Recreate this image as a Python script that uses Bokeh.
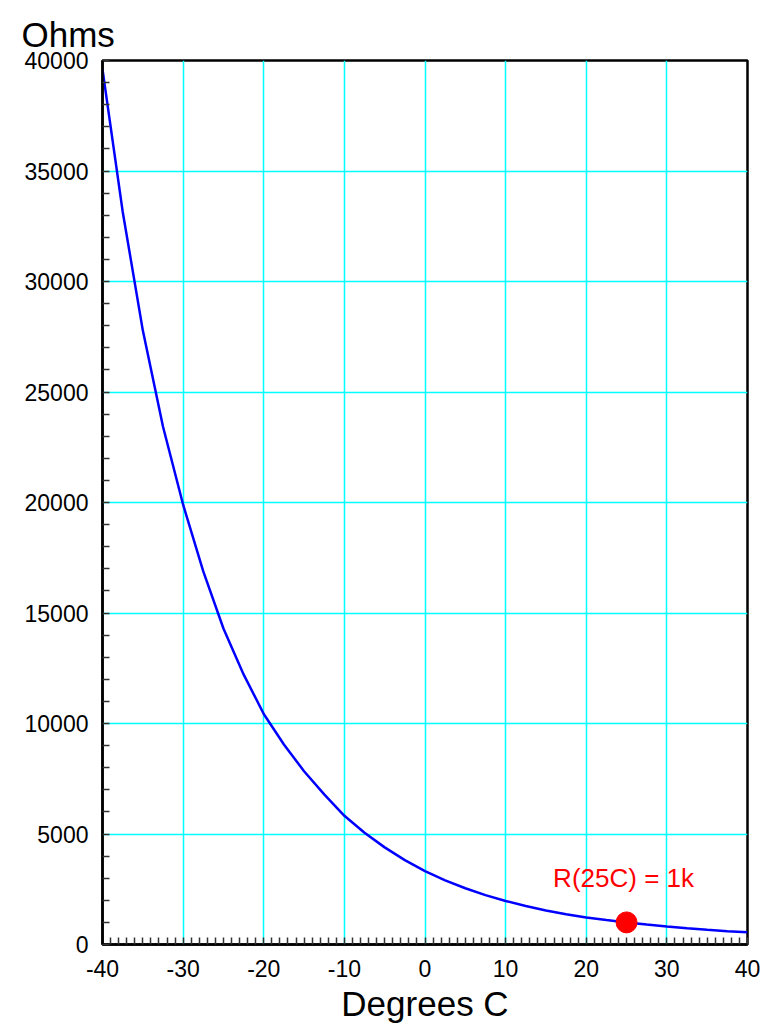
from bokeh.plotting import figure
from bokeh.models import Range1d, FixedTicker, Label, CustomJSTickFormatter
from bokeh.embed import file_html
from bokeh.resources import INLINE

# Thermistor resistance vs temperature (R at 25 C = 1 kOhm)
temps_c = [-40, -37.5, -35, -32.5, -30, -27.5, -25, -22.5, -20, -17.5, -15,
           -12.5, -10, -7.5, -5, -2.5, 0, 2.5, 5, 7.5, 10, 12.5, 15, 17.5,
           20, 22.5, 25, 27.5, 30, 32.5, 35, 37.5, 40]
ohms = [39600, 33170, 27790, 23440, 19900, 16880, 14300, 12220, 10430, 9050,
        7840, 6790, 5825, 5060, 4395, 3820, 3320, 2905, 2545, 2235, 1970,
        1740, 1540, 1370, 1225, 1107, 1000, 900, 810, 733, 665, 604, 550]

ref_temp = [25]
ref_ohms = [1000]
ref_text = "R(25C) = 1k"

x_ticks = [-40, -30, -20, -10, 0, 10, 20, 30, 40]
x_minor = list(range(-40, 41))
y_ticks = [0, 5000, 10000, 15000, 20000, 25000, 30000, 35000, 40000]
y_minor = list(range(0, 40001, 1000))

FONT = "Liberation Sans"

p = figure(width=773, height=1025, output_backend="svg", toolbar_location=None,
           x_range=Range1d(-40, 40), y_range=Range1d(0, 40000),
           min_border_left=102, min_border_right=26,
           min_border_top=60, min_border_bottom=80)

p.background_fill_color = "white"
p.border_fill_color = "white"
p.outline_line_color = "black"
p.outline_line_width = 2.5

xax = p.below[0]
yax = p.left[0]

# unit caption above the y axis
p.title.text = "Ohms"
p.title.align = "left"
p.title.offset = -81
p.title.text_font = FONT
p.title.text_font_size = "35px"
p.title.text_font_style = "normal"
p.title.text_color = "black"
p.title.standoff = 14

# grid
p.xgrid.ticker = FixedTicker(ticks=x_ticks)
p.ygrid.ticker = FixedTicker(ticks=y_ticks)
for g in (p.xgrid, p.ygrid):
    g.grid_line_color = "#00FFFF"
    g.grid_line_width = 1.5
    g.grid_line_alpha = 1.0

# axes
plain = CustomJSTickFormatter(code="return tick.toString();")
xax.ticker = FixedTicker(ticks=x_ticks, minor_ticks=x_minor)
yax.ticker = FixedTicker(ticks=y_ticks, minor_ticks=y_minor)
for ax in (xax, yax):
    ax.formatter = plain
    ax.axis_line_color = "black"
    ax.axis_line_width = 2.5
    ax.major_tick_line_color = None
    ax.minor_tick_in = 7
    ax.minor_tick_out = 0
    ax.minor_tick_line_color = "#333333"
    ax.minor_tick_line_width = 1.5
    ax.major_label_text_font = FONT
    ax.major_label_text_font_size = "23px"
    ax.major_label_text_color = "black"
yax.major_label_standoff = 8
xax.major_label_standoff = 9

xax.axis_label = "Degrees C"
xax.axis_label_text_font = FONT
xax.axis_label_text_font_size = "35px"
xax.axis_label_text_font_style = "normal"
xax.axis_label_text_color = "black"
xax.axis_label_standoff = 4

# curve and reference point
p.line(temps_c, ohms, line_color="#0000FF", line_width=2.5)
p.scatter(ref_temp, ref_ohms, size=21, fill_color="#FF0000", line_color="#FF0000")

p.add_layout(Label(x=ref_temp[0], y=ref_ohms[0], x_offset=-3, y_offset=44,
                   text=ref_text, text_align="center", text_baseline="alphabetic",
                   text_font=FONT, text_font_size="26px", text_color="#FF0000"))

open("out.html", "w").write(file_html(p, INLINE))
